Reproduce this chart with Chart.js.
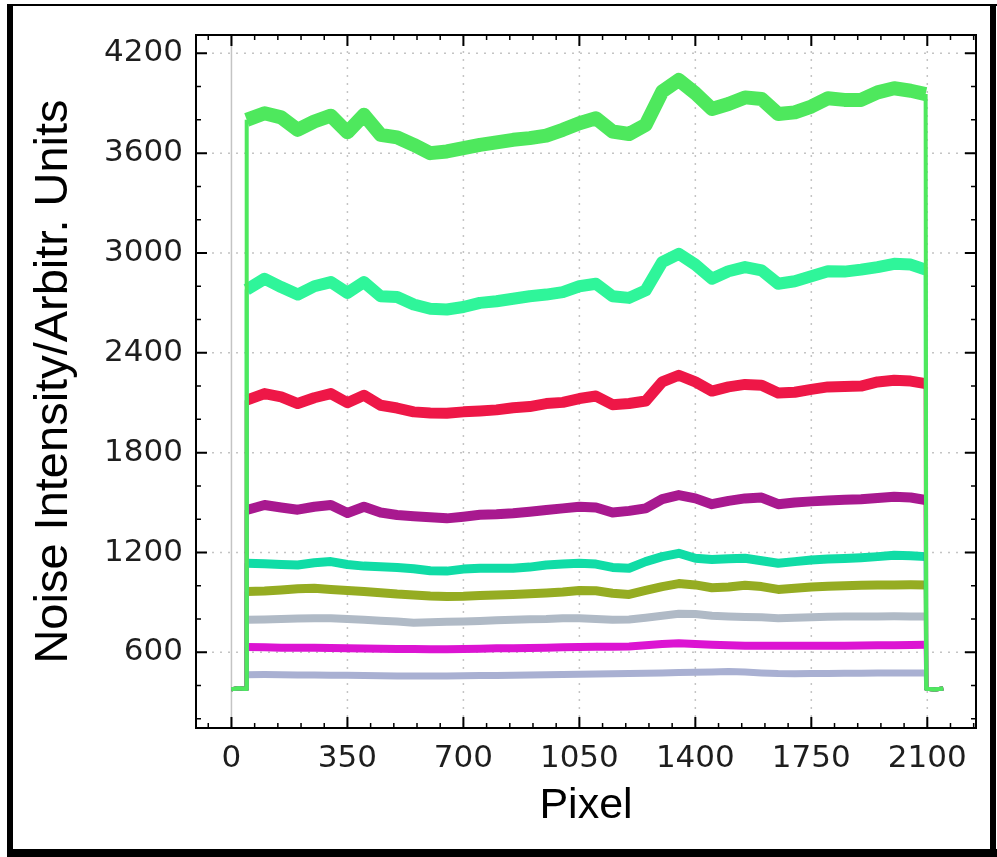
<!DOCTYPE html>
<html>
<head>
<meta charset="utf-8">
<script src="https://cdn.jsdelivr.net/npm/chart.js@4.4.1/dist/chart.umd.min.js"></script>
<style>
  html, body { margin: 0; padding: 0; background: #fff; }
  canvas { display: block; }
</style>
</head>
<body>
<canvas id="noiseChart" width="997" height="857"></canvas>
<script>
// tick positions
const xTicks = [0, 350, 700, 1050, 1400, 1750, 2100];
const yTicks = [600, 1200, 1800, 2400, 3000, 3600, 4200];

// pixel positions: dark level before the active area, active area, dark level after
const pixelsStart = [0, 22, 44];
const pixelsLevel = [46, 100, 150, 200, 250, 300, 350, 400, 450, 500, 550, 600, 650, 700, 750, 800, 850, 900, 950, 1000,
  1050, 1100, 1150, 1200, 1250, 1300, 1350, 1400, 1450, 1500, 1550, 1600, 1650, 1700, 1750, 1800, 1850, 1900, 1950, 2000, 2050, 2095];
const pixelsEnd = [2097, 2122, 2148];

const baseStart = [378, 384, 380];
const baseEnd = [381, 377, 383];

// noise intensity per curve, top to bottom
const curveGreen = [3800, 3840, 3815, 3740, 3790, 3825, 3725, 3830, 3710, 3695, 3650, 3600, 3610, 3630, 3650, 3665, 3680, 3690, 3705, 3740,
  3780, 3810, 3730, 3715, 3770, 3970, 4040, 3960, 3865, 3895, 3935, 3925, 3835, 3845, 3880, 3930, 3920, 3920, 3965, 3990, 3975, 3955];
const curveMint = [2780, 2845, 2795, 2750, 2800, 2825, 2760, 2825, 2740, 2735, 2690, 2665, 2660, 2675, 2700, 2710, 2725, 2740, 2750, 2765,
  2800, 2815, 2740, 2730, 2775, 2945, 2995, 2930, 2845, 2890, 2915, 2895, 2815, 2830, 2860, 2890, 2888, 2900, 2915, 2935, 2930, 2900];
const curveRed = [2115, 2155, 2135, 2095, 2130, 2155, 2100, 2145, 2085, 2068, 2045, 2038, 2037, 2045, 2050, 2057, 2070, 2077, 2095, 2102,
  2125, 2140, 2088, 2095, 2110, 2225, 2265, 2225, 2170, 2195, 2210, 2205, 2158, 2163, 2180, 2195, 2197, 2200, 2225, 2235, 2230, 2215];
const curvePurple = [1455, 1485, 1470, 1457, 1475, 1485, 1437, 1475, 1440, 1425, 1418, 1412, 1405, 1415, 1427, 1430, 1436, 1445, 1455, 1465,
  1475, 1470, 1440, 1450, 1465, 1520, 1545, 1525, 1490, 1510, 1525, 1530, 1490, 1500, 1507, 1512, 1517, 1520, 1527, 1535, 1530, 1515];
const curveTeal = [1135, 1132, 1128, 1125, 1138, 1145, 1128, 1118, 1114, 1110, 1102, 1090, 1088, 1100, 1105, 1105, 1105, 1112, 1125, 1130,
  1135, 1130, 1110, 1105, 1145, 1175, 1195, 1165, 1158, 1162, 1165, 1150, 1135, 1145, 1155, 1160, 1163, 1168, 1175, 1183, 1180, 1175];
const curveOlive = [965, 968, 975, 982, 985, 978, 972, 965, 958, 950, 945, 938, 935, 937, 942, 945, 948, 952, 956, 962,
  972, 970, 955, 948, 972, 995, 1013, 1005, 988, 993, 1003, 995, 978, 985, 993, 997, 1000, 1003, 1005, 1005, 1006, 1005];
const curveGray = [795, 797, 800, 803, 805, 805, 800, 795, 790, 785, 778, 780, 783, 785, 788, 793, 795, 798, 800, 805,
  805, 800, 795, 797, 808, 820, 832, 830, 820, 815, 812, 810, 805, 808, 810, 813, 815, 815, 815, 816, 815, 815];
const curveMagenta = [632, 630, 628, 628, 627, 626, 625, 623, 622, 620, 620, 619, 619, 620, 622, 624, 625, 626, 628, 630,
  632, 633, 633, 635, 642, 650, 655, 650, 645, 642, 640, 639, 639, 639, 639, 640, 640, 641, 642, 643, 644, 645];
const curveLavender = [465, 466, 465, 464, 463, 462, 462, 460, 459, 458, 458, 458, 458, 459, 460, 461, 462, 463, 465, 467,
  468, 470, 471, 472, 474, 476, 478, 480, 482, 484, 481, 476, 472, 471, 472, 473, 474, 474, 475, 475, 475, 475];

const curves = [
  { values: curveGreen, color: '#4ee85d', band: 14 },
  { values: curveMint, color: '#2ff59a', band: 12 },
  { values: curveRed, color: '#ee1747', band: 11 },
  { values: curvePurple, color: '#a8198f', band: 10 },
  { values: curveTeal, color: '#10dca6', band: 9 },
  { values: curveOlive, color: '#95ac22', band: 9 },
  { values: curveGray, color: '#b0bac6', band: 8 },
  { values: curveMagenta, color: '#dc14d2', band: 8 },
  { values: curveLavender, color: '#a9b0d2', band: 7 }
];

function buildPoints(levels) {
  return pixelsStart.map((p, i) => ({ x: p, y: baseStart[i] }))
    .concat(pixelsLevel.map((p, i) => ({ x: p, y: levels[i] })))
    .concat(pixelsEnd.map((p, i) => ({ x: p, y: baseEnd[i] })));
}

const xMin = -107, xMax = 2247, yMin = 145, yMax = 4310;

// grid, inward ticks, spines and the outer frame
const axisDecor = {
  id: 'axisDecor',
  beforeDatasetsDraw(chart) {
    const { ctx, chartArea: a, scales: { x, y } } = chart;
    ctx.save();
    ctx.lineWidth = 1.5;
    ctx.strokeStyle = '#c4c4c4';
    xTicks.forEach(v => {
      const px = x.getPixelForValue(v);
      ctx.setLineDash(v === 0 ? [] : [2, 6]);
      ctx.beginPath();
      ctx.moveTo(px, a.top);
      ctx.lineTo(px, a.bottom);
      ctx.stroke();
    });
    ctx.setLineDash([2, 6]);
    yTicks.forEach(v => {
      const py = y.getPixelForValue(v);
      ctx.beginPath();
      ctx.moveTo(a.left, py);
      ctx.lineTo(a.right, py);
      ctx.stroke();
    });
    ctx.restore();
  },
  afterDatasetsDraw(chart) {
    const { ctx, chartArea: a, scales: { x, y } } = chart;
    ctx.save();
    ctx.strokeStyle = '#000';
    const tickX = (v, len, w) => {
      const px = x.getPixelForValue(v);
      ctx.lineWidth = w;
      ctx.beginPath();
      ctx.moveTo(px, a.bottom); ctx.lineTo(px, a.bottom - len);
      ctx.moveTo(px, a.top); ctx.lineTo(px, a.top + len);
      ctx.stroke();
    };
    const tickY = (v, len, w) => {
      const py = y.getPixelForValue(v);
      ctx.lineWidth = w;
      ctx.beginPath();
      ctx.moveTo(a.left, py); ctx.lineTo(a.left + len, py);
      ctx.moveTo(a.right, py); ctx.lineTo(a.right - len, py);
      ctx.stroke();
    };
    for (let v = -70; v < xMax; v += 70) {
      if (!xTicks.includes(v)) tickX(v, 5, 1.5);
    }
    for (let v = 200; v < yMax; v += 200) {
      if (!yTicks.includes(v)) tickY(v, 5, 1.5);
    }
    xTicks.forEach(v => tickX(v, 11, 2));
    yTicks.forEach(v => tickY(v, 11, 2));
    ctx.lineWidth = 2;
    ctx.strokeRect(a.left, a.top, a.right - a.left, a.bottom - a.top);
    ctx.restore();
  },
  afterDraw(chart) {
    const { ctx } = chart;
    ctx.save();
    ctx.fillStyle = '#000';
    ctx.fillRect(7, 4, 990, 2);
    ctx.fillRect(7, 4, 6, 853);
    ctx.fillRect(7, 849, 990, 8);
    ctx.fillRect(990, 4, 6, 853);
    ctx.restore();
  }
};

const ctx = document.getElementById('noiseChart').getContext('2d');

new Chart(ctx, {
  type: 'line',
  data: {
    datasets: curves.map(c => ({
      data: buildPoints(c.values),
      borderColor: c.color,
      borderWidth: c.band,
      borderJoinStyle: 'round',
      pointRadius: 0,
      tension: 0,
      fill: false,
      segment: {
        // the jumps and the dark level are a thin line, the noisy part is a band
        borderWidth: s => (s.p0.parsed.x <= 45 || s.p1.parsed.x >= 2096) ? 4 : c.band
      }
    }))
  },
  options: {
    responsive: false,
    devicePixelRatio: 1,
    animation: false,
    layout: { padding: { left: 0, top: 35, right: 21, bottom: 0 } },
    plugins: { legend: { display: false }, tooltip: { enabled: false } },
    scales: {
      x: {
        type: 'linear',
        min: xMin,
        max: xMax,
        afterBuildTicks: scale => { scale.ticks = xTicks.map(v => ({ value: v })); },
        afterFit: scale => { scale.height = 129; },
        grid: { display: false, drawTicks: false },
        border: { display: false },
        ticks: {
          padding: 12,
          color: '#1e1e1e',
          font: { family: 'DejaVu Sans', size: 31 },
          callback: v => String(v)
        },
        title: {
          display: true,
          text: 'Pixel',
          color: '#000',
          font: { family: 'Liberation Sans', size: 43, lineHeight: 1 },
          padding: { top: 0, bottom: 29 }
        }
      },
      y: {
        type: 'linear',
        min: yMin,
        max: yMax,
        afterBuildTicks: scale => { scale.ticks = yTicks.map(v => ({ value: v })); },
        afterFit: scale => { scale.width = 196; },
        grid: { display: false, drawTicks: false },
        border: { display: false },
        ticks: {
          padding: 13,
          color: '#1e1e1e',
          font: { family: 'DejaVu Sans', size: 31 },
          callback: v => String(v)
        },
        title: {
          display: true,
          text: 'Noise Intensity/Arbitr. Units',
          color: '#000',
          font: { family: 'Liberation Sans', size: 47, lineHeight: 1 },
          padding: { top: 31, bottom: 0 }
        }
      }
    }
  },
  plugins: [axisDecor]
});
</script>
</body>
</html>
